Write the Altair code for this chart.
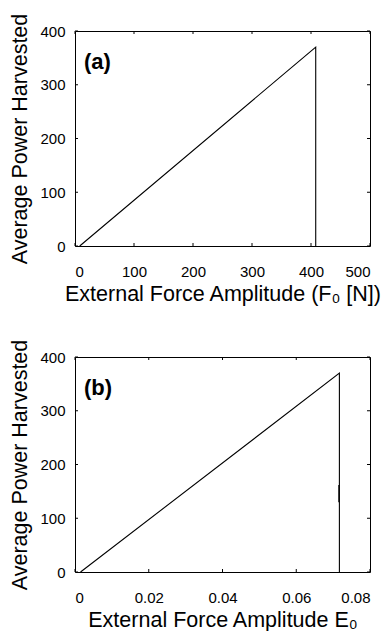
import altair as alt
import pandas as pd

# ---- data ----
a_x = [8, 408, 408]
a_y = [0, 370, 0]

b_x = [0.0015, 0.0717, 0.0717]
b_y = [0, 370, 0]
b_blip_x = [0.07155, 0.07155]
b_blip_y = [130, 162]

a_xticks = [0, 100, 200, 300, 400, 500]
b_xticks = [0, 0.02, 0.04, 0.06, 0.08]
yticks = [0, 100, 200, 300, 400]

a_xtitle = "External Force Amplitude (F\u2080 [N])"
b_xtitle = "External Force Amplitude E\u2080"
ytitle = "Average Power Harvested"

W, H = 295, 215
TICK = 3
FONT = "Liberation Sans"


def panel(xs, ys, extra, xticks, xdomain, xtitle, xfmt, letter):
    rows = [{"x": x, "y": y, "o": i, "seg": "main"} for i, (x, y) in enumerate(zip(xs, ys))]
    if extra:
        ex, ey = extra
        rows += [{"x": x, "y": y, "o": i, "seg": "blip"} for i, (x, y) in enumerate(zip(ex, ey))]
    df = pd.DataFrame(rows)
    xscale = alt.Scale(domain=xdomain, nice=False, zero=False)
    yscale = alt.Scale(domain=[0, 400], nice=False)
    xaxis = alt.Axis(values=xticks, format=xfmt, title=xtitle, labelPadding=18, titlePadding=4)
    yaxis = alt.Axis(values=yticks, title=ytitle, labelPadding=10, titlePadding=8)

    line = alt.Chart(df).mark_line(color="black", strokeWidth=1.1).encode(
        x=alt.X("x:Q", scale=xscale, axis=xaxis),
        y=alt.Y("y:Q", scale=yscale, axis=yaxis),
        order="o:Q",
        detail="seg:N",
    )
    xt = pd.DataFrame({"t": xticks})
    yt = pd.DataFrame({"t": yticks})
    bt = alt.Chart(xt).mark_rule(color="black", strokeWidth=1).encode(
        x=alt.X("t:Q", scale=xscale, axis=xaxis), y=alt.value(H), y2=alt.value(H - TICK))
    tt = alt.Chart(xt).mark_rule(color="black", strokeWidth=1).encode(
        x=alt.X("t:Q", scale=xscale, axis=xaxis), y=alt.value(0), y2=alt.value(TICK))
    lt = alt.Chart(yt).mark_rule(color="black", strokeWidth=1).encode(
        y=alt.Y("t:Q", scale=yscale, axis=yaxis), x=alt.value(0), x2=alt.value(TICK))
    rt = alt.Chart(yt).mark_rule(color="black", strokeWidth=1).encode(
        y=alt.Y("t:Q", scale=yscale, axis=yaxis), x=alt.value(W), x2=alt.value(W - TICK))
    lab = alt.Chart(pd.DataFrame({"t": [letter]})).mark_text(
        font=FONT, fontSize=22, fontWeight="bold", align="left", baseline="alphabetic",
        color="black").encode(text="t:N", x=alt.value(9), y=alt.value(38))
    return alt.layer(line, bt, tt, lt, rt, lab).properties(width=W, height=H)


pa = panel(a_x, a_y, None, a_xticks, [0, 500], a_xtitle, "d", "(a)")
pb = panel(b_x, b_y, (b_blip_x, b_blip_y), b_xticks, [0, 0.08], b_xtitle, "~g", "(b)")

chart = alt.vconcat(pa, pb, spacing=111, bounds="flush").properties(
    padding={"left": 9, "top": 12, "right": 0, "bottom": 0},
    background="white",
).configure_view(
    stroke="black", strokeWidth=1
).configure_axis(
    domain=False, grid=False, ticks=False,
    labelFont=FONT, labelFontSize=15, labelColor="black",
    titleFont=FONT, titleFontSize=21.5, titleFontWeight="normal", titleColor="black",
)

chart.save("out.html", embed_options={"renderer": "svg", "actions": False})
